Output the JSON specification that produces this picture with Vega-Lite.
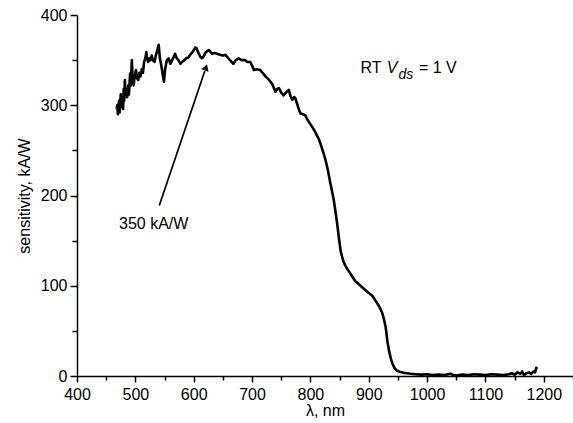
{
  "$schema": "https://vega.github.io/schema/vega-lite/v6.json",
  "width": 496,
  "height": 361,
  "autosize": {"type": "none"},
  "padding": {"left": 77, "top": 15, "right": 0, "bottom": 47},
  "background": "white",
  "config": {
    "view": {"stroke": null},
    "font": "Liberation Sans",
    "axis": {
      "grid": false,
      "domainColor": "black",
      "tickColor": "black",
      "domainWidth": 1.5,
      "tickWidth": 1.5,
      "labelColor": "black",
      "labelFontSize": 16,
      "labelFont": "Liberation Sans",
      "titleFont": "Liberation Sans",
      "titleFontSize": 16,
      "titleFontWeight": "normal",
      "titleColor": "black",
      "labelFlush": false,
      "labelOverlap": false,
      "labelBound": false
    }
  },
  "encoding": {
    "x": {
      "field": "lam",
      "type": "quantitative",
      "scale": {"domain": [400, 1250], "nice": false, "zero": false},
      "axis": {
        "title": "λ, nm",
        "format": "d",
        "values": [400, 450, 500, 550, 600, 650, 700, 750, 800, 850, 900, 950, 1000, 1050, 1100, 1150, 1200, 1250],
        "labelExpr": "datum.value % 100 === 0 ? datum.label : ''",
        "tickSize": {"condition": {"test": "datum.value % 100 !== 0", "value": 4}, "value": 6},
        "labelPadding": 4,
        "titlePadding": 0
      }
    },
    "y": {
      "field": "s",
      "type": "quantitative",
      "scale": {"domain": [0, 400], "nice": false},
      "axis": {
        "title": "sensitivity, kA/W",
        "format": "d",
        "values": [0, 50, 100, 150, 200, 250, 300, 350, 400],
        "labelExpr": "datum.value % 100 === 0 ? datum.label : ''",
        "tickSize": {"condition": {"test": "datum.value % 100 !== 0", "value": 5}, "value": 7},
        "labelPadding": 3,
        "titlePadding": 8
      }
    }
  },
  "layer": [
    {
      "data": {"values": [
        {"lam": 468, "s": 296}, {"lam": 469, "s": 300}, {"lam": 470, "s": 290}, {"lam": 472, "s": 305},
        {"lam": 473, "s": 292}, {"lam": 475, "s": 312}, {"lam": 476, "s": 298}, {"lam": 478, "s": 308},
        {"lam": 479, "s": 296}, {"lam": 480, "s": 318}, {"lam": 481, "s": 305}, {"lam": 482, "s": 328},
        {"lam": 483, "s": 312}, {"lam": 485, "s": 318}, {"lam": 486, "s": 309}, {"lam": 488, "s": 322},
        {"lam": 489, "s": 312}, {"lam": 491, "s": 335}, {"lam": 492, "s": 322}, {"lam": 494, "s": 350},
        {"lam": 495, "s": 335}, {"lam": 497, "s": 322}, {"lam": 499, "s": 332}, {"lam": 501, "s": 339},
        {"lam": 503, "s": 330}, {"lam": 505, "s": 328}, {"lam": 507, "s": 336}, {"lam": 509, "s": 332},
        {"lam": 511, "s": 340}, {"lam": 513, "s": 336}, {"lam": 515, "s": 348}, {"lam": 517, "s": 352},
        {"lam": 519, "s": 359}, {"lam": 520, "s": 352}, {"lam": 522, "s": 348}, {"lam": 524, "s": 352},
        {"lam": 526, "s": 350}, {"lam": 528, "s": 355}, {"lam": 530, "s": 350}, {"lam": 533, "s": 348},
        {"lam": 535, "s": 355}, {"lam": 538, "s": 362}, {"lam": 540, "s": 367}, {"lam": 542, "s": 352},
        {"lam": 544, "s": 346}, {"lam": 546, "s": 338}, {"lam": 548, "s": 330}, {"lam": 549, "s": 326},
        {"lam": 551, "s": 340}, {"lam": 554, "s": 350}, {"lam": 557, "s": 352}, {"lam": 560, "s": 346},
        {"lam": 563, "s": 350}, {"lam": 566, "s": 354}, {"lam": 568, "s": 357}, {"lam": 571, "s": 352},
        {"lam": 574, "s": 350}, {"lam": 577, "s": 346}, {"lam": 580, "s": 348}, {"lam": 584, "s": 350},
        {"lam": 587, "s": 352}, {"lam": 591, "s": 353}, {"lam": 594, "s": 356}, {"lam": 597, "s": 358},
        {"lam": 600, "s": 361}, {"lam": 603, "s": 364}, {"lam": 605, "s": 363}, {"lam": 608, "s": 358},
        {"lam": 611, "s": 354}, {"lam": 614, "s": 352}, {"lam": 617, "s": 354}, {"lam": 620, "s": 358},
        {"lam": 623, "s": 360}, {"lam": 626, "s": 361}, {"lam": 629, "s": 359}, {"lam": 632, "s": 357},
        {"lam": 636, "s": 358}, {"lam": 640, "s": 357}, {"lam": 645, "s": 356}, {"lam": 650, "s": 355},
        {"lam": 654, "s": 356}, {"lam": 658, "s": 353}, {"lam": 662, "s": 350}, {"lam": 668, "s": 346},
        {"lam": 672, "s": 350}, {"lam": 677, "s": 352}, {"lam": 682, "s": 350}, {"lam": 688, "s": 350},
        {"lam": 692, "s": 348}, {"lam": 697, "s": 348}, {"lam": 700, "s": 344}, {"lam": 703, "s": 339},
        {"lam": 708, "s": 340}, {"lam": 714, "s": 339}, {"lam": 718, "s": 336}, {"lam": 723, "s": 332},
        {"lam": 728, "s": 329}, {"lam": 734, "s": 324}, {"lam": 737, "s": 320}, {"lam": 740, "s": 315},
        {"lam": 743, "s": 318}, {"lam": 746, "s": 319}, {"lam": 750, "s": 314}, {"lam": 754, "s": 311},
        {"lam": 758, "s": 314}, {"lam": 763, "s": 317}, {"lam": 766, "s": 310}, {"lam": 769, "s": 306},
        {"lam": 772, "s": 309}, {"lam": 774, "s": 308}, {"lam": 778, "s": 300}, {"lam": 781, "s": 294},
        {"lam": 783, "s": 291}, {"lam": 787, "s": 290}, {"lam": 791, "s": 289}, {"lam": 794, "s": 285},
        {"lam": 797, "s": 282}, {"lam": 801, "s": 278}, {"lam": 806, "s": 273}, {"lam": 810, "s": 268},
        {"lam": 814, "s": 263}, {"lam": 817, "s": 258}, {"lam": 820, "s": 252}, {"lam": 823, "s": 246},
        {"lam": 826, "s": 239}, {"lam": 830, "s": 228}, {"lam": 834, "s": 214}, {"lam": 837, "s": 205},
        {"lam": 840, "s": 195}, {"lam": 843, "s": 182}, {"lam": 846, "s": 168}, {"lam": 849, "s": 152},
        {"lam": 852, "s": 138}, {"lam": 856, "s": 128}, {"lam": 860, "s": 122}, {"lam": 865, "s": 117},
        {"lam": 870, "s": 112}, {"lam": 877, "s": 105}, {"lam": 884, "s": 101}, {"lam": 891, "s": 97},
        {"lam": 898, "s": 93}, {"lam": 906, "s": 89}, {"lam": 910, "s": 85}, {"lam": 914, "s": 81},
        {"lam": 918, "s": 77}, {"lam": 923, "s": 70}, {"lam": 926, "s": 63}, {"lam": 929, "s": 54},
        {"lam": 932, "s": 38}, {"lam": 935, "s": 27}, {"lam": 938, "s": 19}, {"lam": 941, "s": 13},
        {"lam": 944, "s": 9}, {"lam": 948, "s": 6}, {"lam": 954, "s": 4.5}, {"lam": 960, "s": 3.5},
        {"lam": 966, "s": 3}, {"lam": 972, "s": 2.5}, {"lam": 980, "s": 2}, {"lam": 990, "s": 1.5},
        {"lam": 1000, "s": 2}, {"lam": 1010, "s": 1}, {"lam": 1020, "s": 1.5}, {"lam": 1030, "s": 1},
        {"lam": 1040, "s": 2.5}, {"lam": 1045, "s": 1}, {"lam": 1050, "s": 0.5}, {"lam": 1060, "s": 1.5},
        {"lam": 1070, "s": 1}, {"lam": 1080, "s": 2}, {"lam": 1090, "s": 1.5}, {"lam": 1100, "s": 1},
        {"lam": 1110, "s": 2}, {"lam": 1120, "s": 1.5}, {"lam": 1130, "s": 1}, {"lam": 1140, "s": 2},
        {"lam": 1145, "s": 3}, {"lam": 1150, "s": 1.5}, {"lam": 1155, "s": 4}, {"lam": 1160, "s": 2.5},
        {"lam": 1163, "s": 5}, {"lam": 1166, "s": 1}, {"lam": 1170, "s": 3}, {"lam": 1175, "s": 4},
        {"lam": 1178, "s": 2}, {"lam": 1182, "s": 5}, {"lam": 1185, "s": 4}, {"lam": 1187, "s": 9},
        {"lam": 1189, "s": 8}
      ]},
      "mark": {"type": "line", "color": "black", "strokeWidth": 2.6, "strokeJoin": "round"}
    },
    {
      "data": {"values": [{"lam": 541, "s": 189}, {"lam": 619, "s": 338}]},
      "mark": {"type": "line", "color": "black", "strokeWidth": 1.7}
    },
    {
      "data": {"values": [{"lam": 621, "s": 342}]},
      "mark": {"type": "point", "shape": "triangle-up", "filled": true, "color": "black", "opacity": 1, "size": 60, "angle": 19}
    },
    {
      "data": {"values": [
        {"lam": 472, "s": 168, "label": "350 kA/W"},
        {"lam": 886, "s": 341, "label": "RT"},
        {"lam": 986, "s": 341, "label": "= 1 V"}
      ]},
      "mark": {"type": "text", "align": "left", "baseline": "middle", "fontSize": 16, "color": "black", "font": "Liberation Sans"},
      "encoding": {"text": {"field": "label"}}
    },
    {
      "data": {"values": [{"lam": 931, "s": 341, "label": "V"}]},
      "mark": {"type": "text", "align": "left", "baseline": "middle", "fontSize": 16, "fontStyle": "italic", "color": "black", "font": "Liberation Sans"},
      "encoding": {"text": {"field": "label"}}
    },
    {
      "data": {"values": [{"lam": 951, "s": 334, "label": "ds"}]},
      "mark": {"type": "text", "align": "left", "baseline": "middle", "fontSize": 14, "fontStyle": "italic", "color": "black", "font": "Liberation Sans"},
      "encoding": {"text": {"field": "label"}}
    }
  ]
}
